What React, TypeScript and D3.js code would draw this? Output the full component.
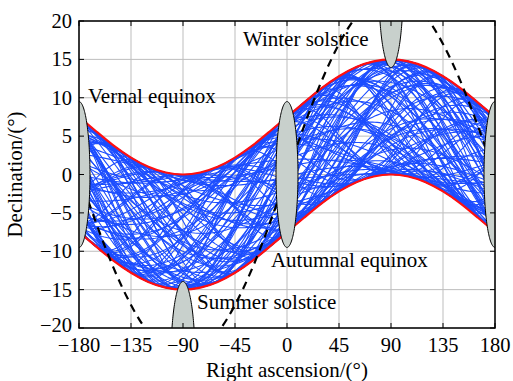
import React from 'react';
import * as d3 from 'd3';

// axis ticks
const raTicks = [-180, -135, -90, -45, 0, 45, 90, 135, 180];
const decTicks = [-20, -15, -10, -5, 0, 5, 10, 15, 20];

// envelope (every 15 deg of RA)
const envRa = [-180, -165, -150, -135, -120, -105, -90, -75, -60, -45, -30, -15, 0, 15, 30, 45, 60, 75, 90, 105, 120, 135, 150, 165, 180];
const envUpper = [7.5, 5.6, 3.75, 2.2, 1.0, 0.26, 0, 0.26, 1.0, 2.2, 3.75, 5.6, 7.5, 9.4, 11.25, 12.8, 14.0, 14.74, 15, 14.74, 14.0, 12.8, 11.25, 9.4, 7.5];
const envLower = [-7.5, -9.4, -11.25, -12.8, -14.0, -14.74, -15, -14.74, -14.0, -12.8, -11.25, -9.4, -7.5, -5.6, -3.75, -2.2, -1.0, -0.26, 0, -0.26, -1.0, -2.2, -3.75, -5.6, -7.5];

// ecliptic (dashed)
const eclipticDec = [0, -6.4, -12.2, -17.0, -20.6, -22.7, -23.4, -22.7, -20.6, -17.0, -12.2, -6.4, 0, 6.4, 12.2, 17.0, 20.6, 22.7, 23.4, 22.7, 20.6, 17.0, 12.2, 6.4, 0];

// blue tracks: wobble frequency and phase of each track around the mid line
const trackFreq = [
  0.3, 0.32, 0.28, 0.31, 0.29, 0.33, 0.3, 0.27,
  0.55, 0.58, 0.6, 0.57, 0.62, 0.56, 0.59, 0.61,
  0.78, 0.75, 0.77, 0.74, 0.79, 0.76, 0.73, 0.78,
  0.95, 0.9, 0.92, 0.97, 0.93, 0.9, 0.96, 0.94,
  1.15, 1.12, 1.18, 1.14, 1.16, 1.11, 1.17, 1.13,
  1.35, 1.3, 1.32, 1.38, 1.33, 1.36, 1.31, 1.34,
  1.75, 1.7, 1.72, 1.78, 1.74, 1.71, 1.76, 1.73,
  2.1, 2.15, 2.05, 2.12, 2.08, 2.14, 2.06, 2.1,
  -0.55, -0.6, -0.58, -0.62, -0.57, -0.59, -0.56, -0.61,
  -0.78, -0.75, -0.77, -0.74, -0.79, -0.76, -0.73, -0.78,
  -0.95, -0.92, -0.9, -0.97, -0.94, -0.93, -0.96, -0.91,
  -1.35, -1.32, -1.3, -1.37, -1.33, -1.36, -1.31, -1.34,
  -1.75, -1.72, -1.7, -1.77, -1.73, -1.76, -1.71, -1.74,
];
const trackPhase = [
  25, 70, 118, 160, 205, 252, 298, 342,
  10, 55, 100, 150, 195, 240, 285, 330,
  48, 92, 138, 182, 228, 272, 318, 4,
  30, 75, 120, 165, 210, 260, 305, 350,
  12, 58, 102, 148, 192, 238, 284, 328,
  5, 50, 95, 140, 185, 230, 280, 325,
  20, 65, 115, 160, 205, 250, 295, 340,
  40, 85, 130, 178, 222, 268, 312, 358,
  15, 60, 105, 155, 200, 245, 290, 335,
  52, 98, 142, 188, 232, 278, 322, 8,
  35, 80, 125, 170, 215, 265, 310, 355,
  0, 45, 90, 135, 180, 225, 270, 315,
  28, 72, 112, 158, 202, 248, 292, 338,
];
const midAmp = 7.5;

// equinox / solstice markers
const markerNames = ['Vernal', 'Autumnal', 'Vernal2', 'Winter', 'Summer'];
const markerRa = [-180, 0, 180, 90, -90];
const markerDec = [0, 0, 0, 23.44, -23.44];
const markerRadius = 9.5;

const labels = ['Vernal equinox', 'Winter solstice', 'Autumnal equinox', 'Summer solstice'];
const labelRa = [-172.2, -38.1, -13.9, -77.9];
const labelDec = [9.3, 16.7, -12.05, -17.5];

const W = 513, H = 381;
const margin = { top: 21, right: 18, bottom: 53, left: 79 };
const FONT = "'Liberation Serif', 'Times New Roman', serif";
const rad = Math.PI / 180;

const fmt = (v: number) => (v < 0 ? '\u2212' + Math.abs(v) : String(v));

function smallCircle(ra0: number, dec0: number, r: number) {
  const pts: [number, number][] = [];
  for (let i = 0; i <= 360; i += 2) {
    const a = i * rad;
    const d0 = dec0 * rad, rr = r * rad;
    const sd = Math.sin(d0) * Math.cos(rr) + Math.cos(d0) * Math.sin(rr) * Math.cos(a);
    const d = Math.asin(sd);
    const da = Math.atan2(Math.sin(a) * Math.sin(rr) * Math.cos(d0), Math.cos(rr) - Math.sin(d0) * sd);
    pts.push([ra0 + da / rad, d / rad]);
  }
  return pts;
}

export default function App() {
  const iw = W - margin.left - margin.right;
  const ih = H - margin.top - margin.bottom;
  const x = d3.scaleLinear().domain([-180, 180]).range([0, iw]);
  const y = d3.scaleLinear().domain([-20, 20]).range([ih, 0]);

  const line = d3.line<[number, number]>().x(d => x(d[0])).y(d => y(d[1]));
  const smooth = d3.line<[number, number]>().x(d => x(d[0])).y(d => y(d[1])).curve(d3.curveNatural);

  const samples = d3.range(-180, 180.01, 2);
  const tracks = trackFreq.map((f, i) =>
    samples.map(r => [r, midAmp * Math.sin(r * rad) + midAmp * Math.sin((f * r + trackPhase[i]) * rad)] as [number, number])
  );

  return (
    <div style={{ position: 'absolute', left: 0, top: 0 }}>
      <svg width={W} height={H} style={{ display: 'block', fontFamily: FONT }}>
        <defs>
          <clipPath id="plot">
            <rect x={0} y={0} width={iw} height={ih} />
          </clipPath>
        </defs>
        <rect width={W} height={H} fill="#fff" />
        <g transform={`translate(${margin.left},${margin.top})`}>
          {raTicks.map(t => (
            <line key={'gx' + t} x1={x(t)} x2={x(t)} y1={0} y2={ih} stroke="#bdbdbd" strokeWidth={1} />
          ))}
          {decTicks.map(t => (
            <line key={'gy' + t} x1={0} x2={iw} y1={y(t)} y2={y(t)} stroke="#bdbdbd" strokeWidth={1} />
          ))}
          <g clipPath="url(#plot)">
            {tracks.map((t, i) => (
              <path key={'t' + i} d={line(t) || ''} fill="none" stroke="#1c4dff" strokeWidth={1.1} />
            ))}
            <path d={smooth(envRa.map((r, i) => [r, envUpper[i]] as [number, number])) || ''} fill="none" stroke="#ff1010" strokeWidth={2.2} />
            <path d={smooth(envRa.map((r, i) => [r, envLower[i]] as [number, number])) || ''} fill="none" stroke="#ff1010" strokeWidth={2.2} />
            <path d={smooth(envRa.map((r, i) => [r, eclipticDec[i]] as [number, number])) || ''} fill="none" stroke="#000" strokeWidth={2.2} strokeDasharray="8,6" />
            {markerNames.map((n, i) => (
              <path key={n} d={(line(smallCircle(markerRa[i], markerDec[i], markerRadius)) || '') + 'Z'} fill="#c8d0cc" stroke="#000" strokeWidth={1} />
            ))}
          </g>
          {labels.map((l, i) => (
            <text key={l} x={x(labelRa[i])} y={y(labelDec[i])} fontSize={21} fill="#000">{l}</text>
          ))}
          <rect x={0} y={0} width={iw} height={ih} fill="none" stroke="#000" strokeWidth={1.5} />
          {raTicks.map(t => (
            <g key={'tx' + t}>
              <line x1={x(t)} x2={x(t)} y1={ih} y2={ih - 5} stroke="#000" />
              <line x1={x(t)} x2={x(t)} y1={0} y2={5} stroke="#000" />
              <text x={x(t)} y={ih + 24} textAnchor="middle" fontSize={20.5}>{fmt(t)}</text>
            </g>
          ))}
          {decTicks.map(t => (
            <g key={'ty' + t}>
              <line x1={0} x2={5} y1={y(t)} y2={y(t)} stroke="#000" />
              <line x1={iw} x2={iw - 5} y1={y(t)} y2={y(t)} stroke="#000" />
              <text x={-7} y={y(t) + (t === -20 ? 4 : 7)} textAnchor="end" fontSize={20.5}>{fmt(t)}</text>
            </g>
          ))}
          <text x={iw / 2} y={ih + 49} textAnchor="middle" fontSize={21}>Right ascension/(°)</text>
          <text transform={`translate(${-57},${ih / 2}) rotate(-90)`} textAnchor="middle" fontSize={21}>Declination/(°)</text>
        </g>
      </svg>
    </div>
  );
}
